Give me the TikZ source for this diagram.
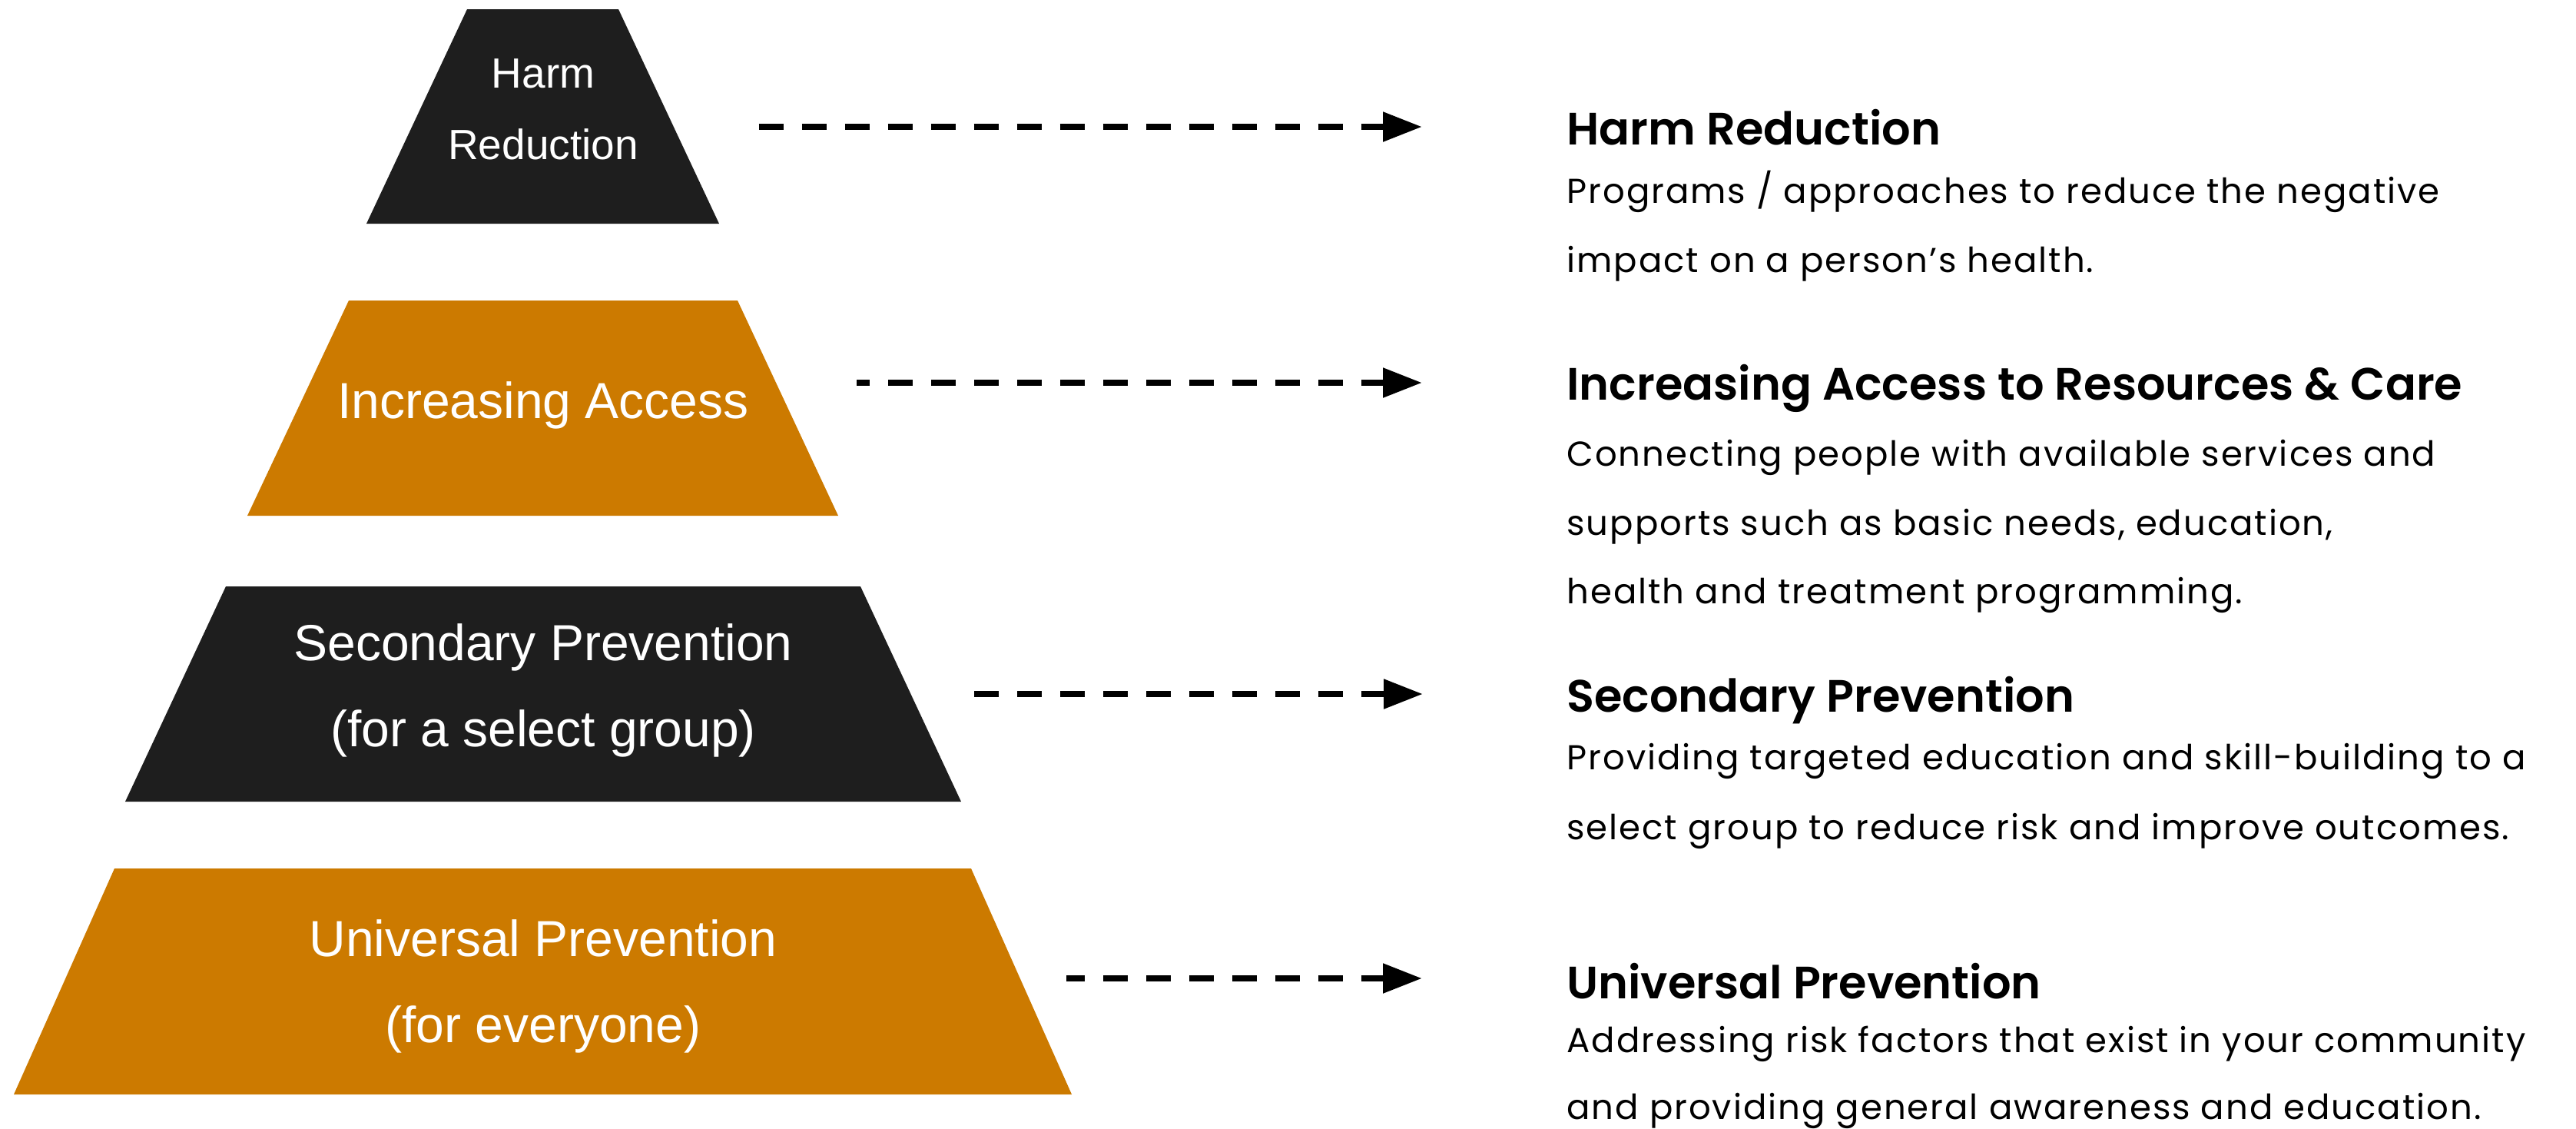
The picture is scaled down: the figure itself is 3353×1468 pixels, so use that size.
\documentclass[tikz,border=0pt]{standalone}
\usepackage{fontspec}
\setmainfont{Liberation Sans}
\newfontfamily\rhead{Poppins SemiBold}
\newfontfamily\rbody[LetterSpace=4.4]{Poppins}
\usetikzlibrary{arrows.meta}
\definecolor{pyorange}{RGB}{204,122,0}
\definecolor{pydark}{RGB}{30,30,30}
\tikzset{
  tiertext/.style={anchor=base,text=white,inner sep=0pt,font=\fontsize{33pt}{33pt}\selectfont},
  smalltiertext/.style={tiertext,font=\fontsize{27.5pt}{27.5pt}\selectfont},
  headtext/.style={anchor=base west,inner sep=0pt,font=\rhead\fontsize{29.5pt}{29.5pt}\selectfont},
  bodytext/.style={anchor=base west,inner sep=0pt,font=\rbody\fontsize{22.5pt}{22.5pt}\selectfont},
  dasharrow/.style={line width=4.25pt,dash pattern=on 16pt off 12pt,-{Triangle[length=25.5pt,width=18.5pt]}}
}
\begin{document}
\begin{tikzpicture}[x=0.5pt,y=-0.5pt]
\useasboundingbox (0,0) rectangle (3353,1468);
\fill[white] (0,0) rectangle (3353,1468);
\clip (0,0) rectangle (3353,1468);
% tiers
\fill[pydark]   (608,12) -- (805,12) -- (936,291) -- (477,291) -- cycle;
\fill[pyorange] (454,391) -- (960,391) -- (1091,671) -- (322,671) -- cycle;
\fill[pydark]   (294,763) -- (1120,763) -- (1251,1043) -- (163,1043) -- cycle;
\fill[pyorange] (149,1130) -- (1264,1130) -- (1395,1424) -- (18,1424) -- cycle;
% tier labels
\node[smalltiertext] (t1a) at (707,114) {Harm};
\node[smalltiertext] (t1b) at (707,207.5) {Reduction};
\node[tiertext] (t2a) at (707,544) {Increasing Access};
\node[tiertext] (t3a) at (707,859) {Secondary Prevention};
\node[tiertext] (t3b) at (707,971) {(for a select group)};
\node[tiertext] (t4a) at (707,1244.5) {Universal Prevention};
\node[tiertext] (t4b) at (707,1356) {(for everyone)};
% arrow ends
\coordinate (a1s) at (987.7,165);
\coordinate (a1e) at (1851,165);
\coordinate (a2s) at (1115,498);
\coordinate (a2e) at (1851,498);
\coordinate (a3s) at (1268,903);
\coordinate (a3e) at (1852,903);
\coordinate (a4s) at (1388,1273);
\coordinate (a4e) at (1851,1273);
\draw[dasharrow] (a1s) -- (a1e);
\draw[dasharrow,dash phase=7.5pt] (a2s) -- (a2e);
\draw[dasharrow] (a3s) -- (a3e);
\draw[dasharrow,dash phase=4pt] (a4s) -- (a4e);
% descriptions
\node[headtext] (h1) at (2039,188) {Harm Reduction};
\node[bodytext] (b1a) at (2039,264) {Programs / approaches to reduce the negative};
\node[bodytext] (b1b) at (2039,354.5) {impact on a person’s health.};
\node[headtext] (h2) at (2039,520.5) {Increasing Access to Resources \& Care};
\node[bodytext] (b2a) at (2039,606.5) {Connecting people with available services and};
\node[bodytext] (b2b) at (2039,696) {supports such as basic needs, education,};
\node[bodytext] (b2c) at (2039,785) {health and treatment programming.};
\node[headtext] (h3) at (2039,926.5) {Secondary Prevention};
\node[bodytext] (b3a) at (2039,1001) {Providing targeted education and skill-building to a};
\node[bodytext] (b3b) at (2039,1092) {select group to reduce risk and improve outcomes.};
\node[headtext] (h4) at (2039,1299) {Universal Prevention};
\node[bodytext] (b4a) at (2039,1369) {Addressing risk factors that exist in your community};
\node[bodytext] (b4b) at (2039,1456) {and providing general awareness and education.};
\end{tikzpicture}
\end{document}
